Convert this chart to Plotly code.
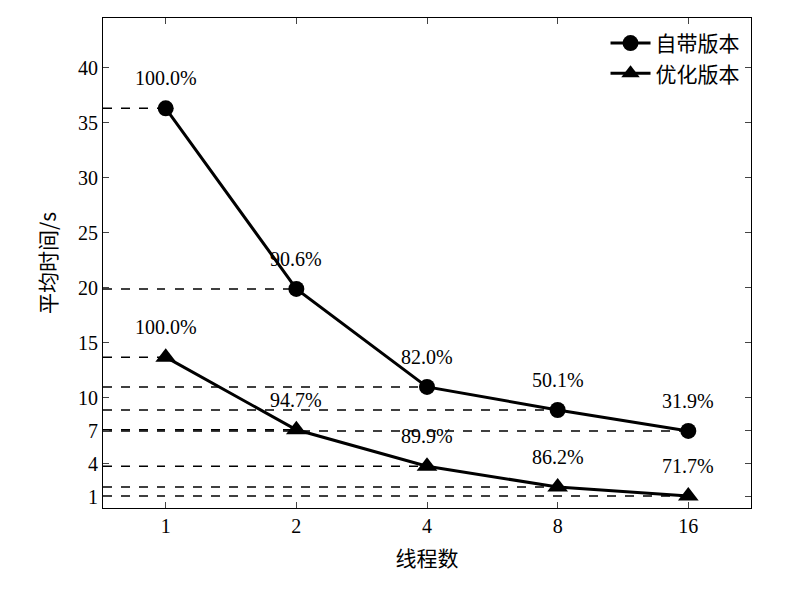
import plotly.graph_objects as go

threads = ["1", "2", "4", "8", "16"]
builtin = [36.3, 19.9, 11.0, 8.9, 7.0]
optimized = [13.7, 7.1, 3.8, 1.9, 1.1]
builtin_pct = ["100.0%", "90.6%", "82.0%", "50.1%", "31.9%"]
optimized_pct = ["100.0%", "94.7%", "89.9%", "86.2%", "71.7%"]
yticks = [1, 4, 7, 10, 15, 20, 25, 30, 35, 40]

SERIF = "Liberation Serif, Times New Roman, serif"
idx = list(range(len(threads)))
fig = go.Figure()
shapes = []
for series in (builtin, optimized):
    for i, v in zip(idx, series):
        shapes.append(dict(type="line", xref="x", yref="y", x0=-0.48, x1=i, y0=v, y1=v,
                           line=dict(color="black", width=1.5, dash="dash"), layer="below"))

fig.add_trace(go.Scatter(x=idx, y=builtin, mode="lines+markers", name="自带版本",
                         line=dict(color="black", width=3),
                         marker=dict(symbol="circle", size=16, color="black")))
fig.add_trace(go.Scatter(x=idx, y=optimized, mode="lines+markers", name="优化版本",
                         line=dict(color="black", width=3),
                         marker=dict(symbol="triangle-up", size=18, color="black")))

ann = []
for series, labels in ((builtin, builtin_pct), (optimized, optimized_pct)):
    for i, v, t in zip(idx, series, labels):
        ann.append(dict(x=i, y=v, text=t, showarrow=False, yshift=30,
                        font=dict(family=SERIF, size=20, color="black")))

fig.update_layout(
    width=800, height=600, margin=dict(l=95, r=57, t=10, b=100),
    plot_bgcolor="white", paper_bgcolor="white",
    shapes=shapes, annotations=ann,
    font=dict(family=SERIF, size=20, color="black"),
    legend=dict(x=0.99, y=0.99, xanchor="right", yanchor="top", bgcolor="rgba(0,0,0,0)",
                font=dict(family="Noto Sans CJK SC", size=21), itemwidth=40),
    xaxis=dict(range=[-0.48, 4.48], tickvals=idx, ticktext=threads, showgrid=False,
               showline=True, linecolor="black", mirror="ticks", ticks="inside", ticklen=6,
               tickfont=dict(family=SERIF, size=20),
               title=dict(text="线程数", font=dict(family="Noto Sans CJK SC", size=21))),
    yaxis=dict(range=[0, 44.5], tickvals=yticks, showgrid=False, zeroline=False,
               showline=True, linecolor="black", mirror="ticks", ticks="inside", ticklen=6,
               tickfont=dict(family=SERIF, size=20),
               title=dict(text="平均时间/s", font=dict(family="Noto Sans CJK SC", size=21))),
)
fig.write_html("out.html")
